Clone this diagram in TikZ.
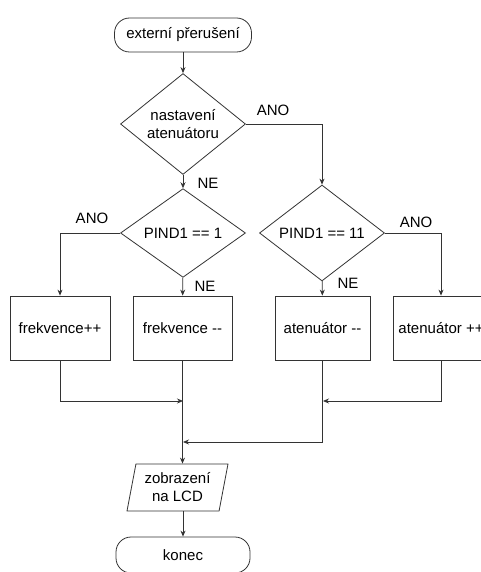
\documentclass[tikz,border=0pt]{standalone}
\usepackage{fontspec}
\setmainfont{Liberation Sans}
\usetikzlibrary{shapes.geometric,arrows.meta}
\tikzset{
  zaklad/.style={draw=black!80,line width=0.8pt,font=\fontsize{15}{18}\selectfont},
  term/.style={zaklad,rectangle,rounded corners=15pt,minimum width=137pt,minimum height=34pt},
  podminka/.style={zaklad,diamond,minimum width=125pt,minimum height=88pt,inner sep=0pt,align=center},
  akce/.style={zaklad,rectangle,minimum height=64pt},
  vystup/.style={zaklad,trapezium,trapezium left angle=76,trapezium right angle=104,
    trapezium stretches body,minimum width=101pt,minimum height=47pt,align=center},
  popis/.style={font=\fontsize{15}{18}\selectfont},
  sip/.style={draw=black!80,line width=0.8pt,-{Stealth[length=6pt,width=5pt]}}
}
\begin{document}
\begin{tikzpicture}[x=1pt,y=-1pt]
	\fill[white] (0,0) rectangle (481,572);
	\clip (0,0) rectangle (481,572);
	% uzly
	\node[term] (start) at (183,35) {externí přerušení};
	\node[podminka] (nast) at (183,124) {nastavení\\atenuátoru};
	\node[podminka] (pind1) at (183,233) {PIND1 == 1};
	\node[podminka] (pind11) at (322,233) {PIND1 == 11};
	\node[akce,minimum width=100pt] (fplus) at (60,328) {frekvence++};
	\node[akce,minimum width=99pt] (fminus) at (182.5,328) {frekvence -{}-};
	\node[akce,minimum width=95pt] (aminus) at (322.5,328) {atenuátor -{}-};
	\node[akce,minimum width=96pt] (aplus) at (441,328) {atenuátor ++};
	\node[vystup] (lcd) at (177.5,487.5) {zobrazení\\na LCD};
	\node[term,minimum width=134pt,minimum height=36pt] (konec) at (183,555) {konec};
	\coordinate (spoj1) at (183,401);
	\coordinate (spoj2) at (323,401);
	\coordinate (spoj3) at (183,442);
	% popisky
	\node[popis] (ano1) at (273,110) {ANO};
	\node[popis] (ne1) at (208,183) {NE};
	\node[popis] (ano2) at (92,218) {ANO};
	\node[popis] (ne2) at (205,286) {NE};
	\node[popis] (ano3) at (416,222) {ANO};
	\node[popis] (ne3) at (348,283) {NE};
	% spoje
	\draw[sip] (start) -- (nast);
	\draw[sip] (nast) -- (pind1);
	\draw[sip] (nast.east) -| (pind11.north);
	\draw[sip] (pind1.west) -| (fplus.north);
	\draw[sip] (pind1) -- (fminus);
	\draw[sip] (pind11) -- (aminus);
	\draw[sip] (pind11.east) -| (aplus.north);
	\draw[sip] (fplus.south) |- (spoj1);
	\draw[sip] (aplus.south) |- (spoj2);
	\draw[sip] (aminus.south) |- (spoj3);
	\draw[sip] (fminus.south) -- (fminus.south |- lcd.north);
	\draw[sip] (lcd.south -| konec) -- (konec.north);
\end{tikzpicture}
\end{document}
